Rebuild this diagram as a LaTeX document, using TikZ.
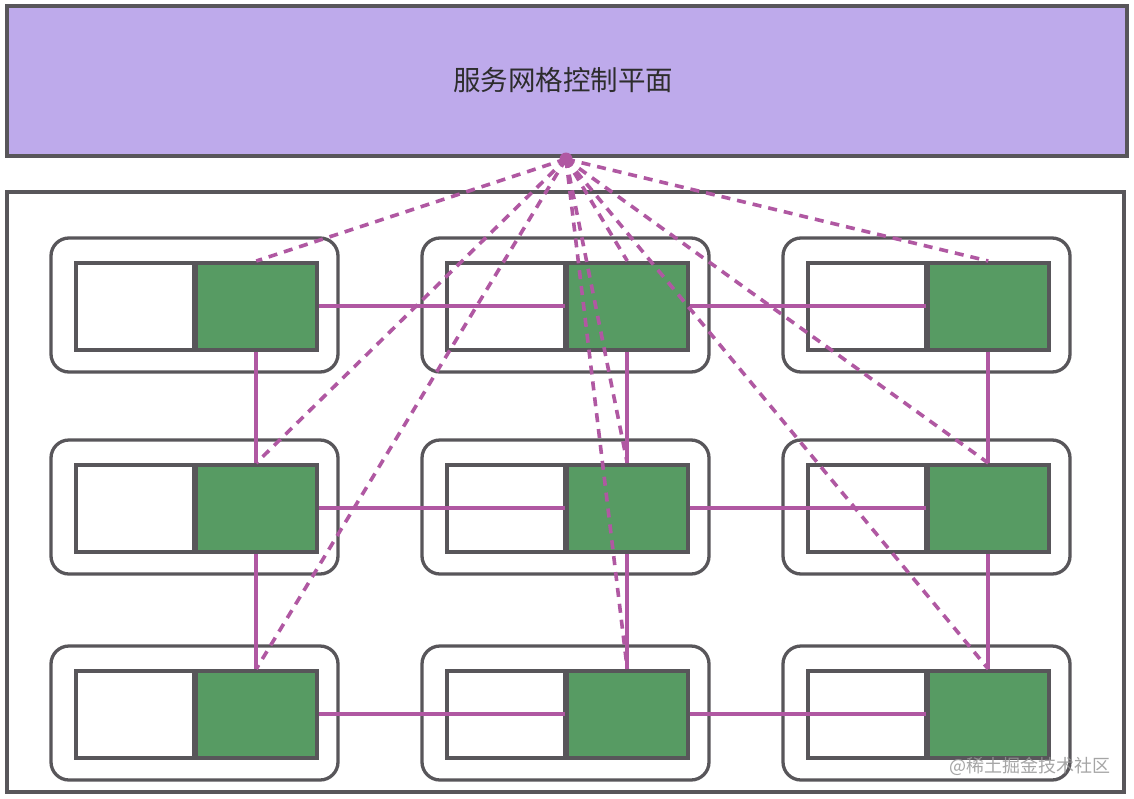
\documentclass[tikz,border=0pt]{standalone}
\usepackage{fontspec}
\newfontfamily\cjk{Noto Sans CJK SC}
\definecolor{bordergray}{RGB}{88,86,90}
\definecolor{lav}{RGB}{190,170,235}
\definecolor{podgreen}{RGB}{87,155,99}
\definecolor{link}{RGB}{176,88,162}
\definecolor{wm}{RGB}{150,150,150}
\definecolor{title}{RGB}{45,45,45}
\begin{document}
\begin{tikzpicture}[x=1pt,y=-1pt,
  frame/.style={draw=bordergray,line width=3.5pt},
  pod/.style={draw=bordergray,line width=3.3pt,rounded corners=18pt},
  appbox/.style={draw=bordergray,line width=3.5pt,fill=white},
  sidecar/.style={draw=bordergray,line width=3.5pt,fill=podgreen},
  mesh/.style={draw=link,line width=3.6pt},
  ctrl/.style={draw=link,line width=3.6pt,dash pattern=on 9pt off 7pt}]
\useasboundingbox (0,0) rectangle (1134,798);
\fill[white] (0,0) rectangle (1134,798);
% control plane
\draw[frame,fill=lav] (7,6) rectangle (1127,156);
\node[text=title] (cp) at (563,80) {\cjk\fontsize{27.5}{32}\selectfont 服务网格控制平面};
\coordinate (apex) at (566,159);
% data plane container
\draw[frame] (7,192) rectangle (1124,792);
% pods
\foreach \c/\px in {1/51,2/422,3/783}{
  \foreach \r/\py in {1/238,2/440,3/646}{
    \draw[pod] (\px,\py) rectangle ++(287,134);
    \node[appbox,minimum width=118pt,minimum height=87pt,inner sep=0pt,anchor=north west]
      (a\c\r) at ({\px+23},{\py+23}) {};
    \node[sidecar,minimum width=121pt,minimum height=87pt,inner sep=0pt,anchor=north west]
      (s\c\r) at ({\px+143},{\py+23}) {};
  }
}
% service-to-service links
\foreach \r in {1,2,3}{
  \draw[mesh] (s1\r.east) -- (s2\r.west);
  \draw[mesh] (s2\r.east) -- (s3\r.west);
}
\foreach \c in {1,2,3}{
  \draw[mesh] (s\c1.south) -- (s\c2.north);
  \draw[mesh] (s\c2.south) -- (s\c3.north);
}
% control links
\foreach \c in {1,2,3}{
  \foreach \r in {1,2,3}{
    \draw[ctrl] (apex) -- (s\c\r.north);
  }
}
\fill[link] (apex) circle (6.5pt);
% watermark
\node[text=wm,opacity=0.85,anchor=east] (wmark) at (1114,766) {\cjk\fontsize{18}{21}\selectfont @稀土掘金技术社区};
\end{tikzpicture}
\end{document}
